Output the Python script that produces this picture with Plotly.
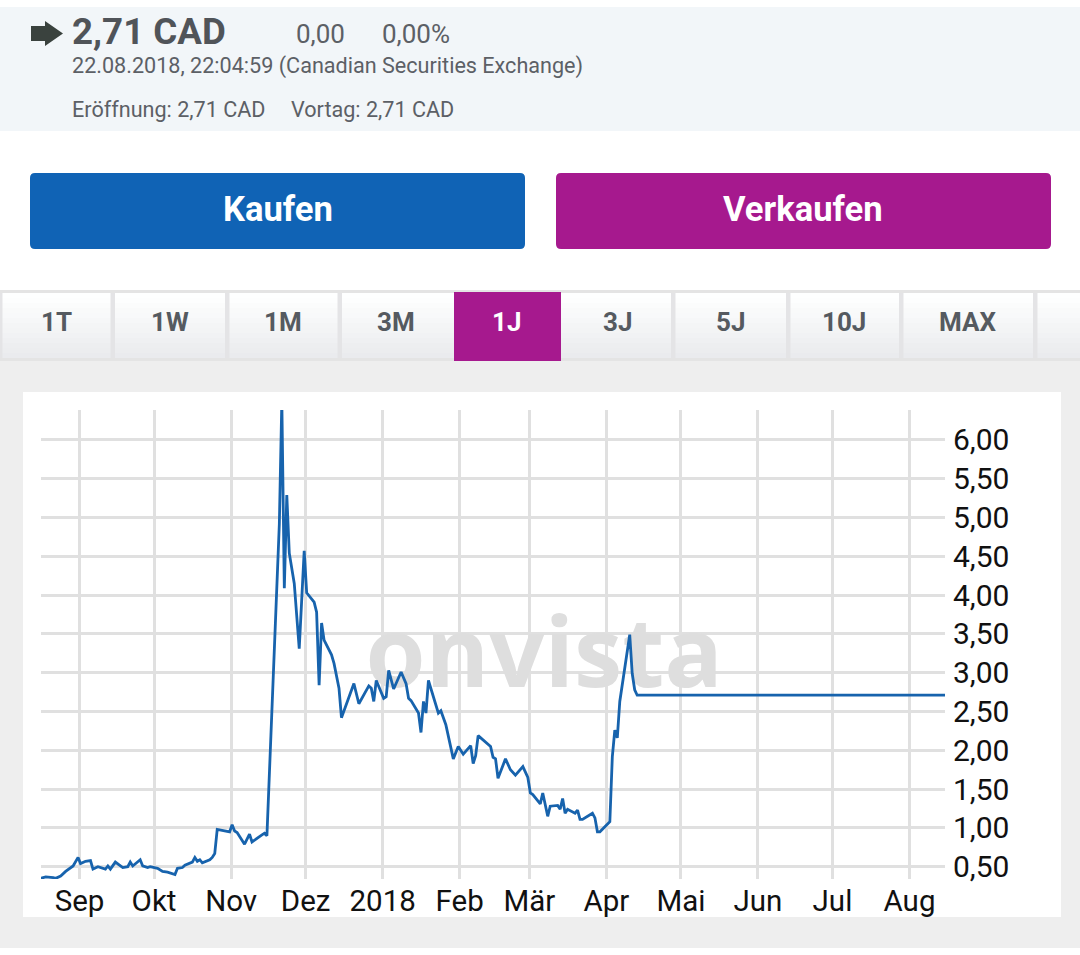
import pandas as pd
import plotly.graph_objects as go

# closing prices
dates = [
    "2017-08-16", "2017-08-18", "2017-08-21", "2017-08-22", "2017-08-24", "2017-08-26", "2017-08-29", "2017-08-31",
    "2017-09-01", "2017-09-03", "2017-09-05", "2017-09-06", "2017-09-08", "2017-09-09", "2017-09-11", "2017-09-12",
    "2017-09-13", "2017-09-15", "2017-09-18", "2017-09-20", "2017-09-21", "2017-09-22", "2017-09-25", "2017-09-26",
    "2017-09-28", "2017-09-29", "2017-10-02", "2017-10-04", "2017-10-06", "2017-10-09", "2017-10-10", "2017-10-12",
    "2017-10-13", "2017-10-16", "2017-10-17", "2017-10-18", "2017-10-19", "2017-10-20", "2017-10-23", "2017-10-24",
    "2017-10-25", "2017-10-26", "2017-10-29", "2017-10-31", "2017-11-01", "2017-11-02", "2017-11-03", "2017-11-06",
    "2017-11-08", "2017-11-09", "2017-11-13", "2017-11-14", "2017-11-15", "2017-11-17", "2017-11-18", "2017-11-19",
    "2017-11-20", "2017-11-21", "2017-11-22", "2017-11-23", "2017-11-24", "2017-11-26", "2017-11-28", "2017-11-30",
    "2017-12-01", "2017-12-04", "2017-12-05", "2017-12-06", "2017-12-07", "2017-12-08", "2017-12-11", "2017-12-12",
    "2017-12-13", "2017-12-14", "2017-12-15", "2017-12-20", "2017-12-22", "2017-12-26", "2017-12-27", "2017-12-28",
    "2017-12-29", "2018-01-01", "2018-01-02", "2018-01-03", "2018-01-05", "2018-01-08", "2018-01-10", "2018-01-11",
    "2018-01-12", "2018-01-15", "2018-01-16", "2018-01-17", "2018-01-18", "2018-01-19", "2018-01-23", "2018-01-24",
    "2018-01-26", "2018-01-29", "2018-01-31", "2018-02-02", "2018-02-05", "2018-02-06", "2018-02-07", "2018-02-08",
    "2018-02-13", "2018-02-14", "2018-02-15", "2018-02-16", "2018-02-19", "2018-02-21", "2018-02-23", "2018-02-26",
    "2018-02-28", "2018-03-01", "2018-03-02", "2018-03-05", "2018-03-06", "2018-03-08", "2018-03-09", "2018-03-12",
    "2018-03-13", "2018-03-14", "2018-03-15", "2018-03-16", "2018-03-19", "2018-03-20", "2018-03-21", "2018-03-22",
    "2018-03-26", "2018-03-27", "2018-03-28", "2018-03-29", "2018-04-02", "2018-04-03", "2018-04-04", "2018-04-05",
    "2018-04-06", "2018-04-10", "2018-04-11", "2018-04-12", "2018-04-13", "2018-05-15", "2018-06-15", "2018-07-16",
    "2018-08-16",
]
prices = [
    0.35, 0.37, 0.36, 0.35, 0.38, 0.44, 0.51, 0.62,
    0.54, 0.57, 0.58, 0.47, 0.50, 0.49, 0.47, 0.51,
    0.47, 0.56, 0.49, 0.50, 0.56, 0.51, 0.59, 0.51,
    0.49, 0.50, 0.48, 0.44, 0.43, 0.40, 0.48, 0.49,
    0.52, 0.56, 0.62, 0.57, 0.59, 0.55, 0.59, 0.62,
    0.67, 0.98, 0.96, 0.95, 1.04, 0.96, 0.94, 0.79,
    0.92, 0.82, 0.91, 0.93, 0.90, 2.52, 3.33, 4.06,
    4.92, 6.50, 4.09, 5.29, 4.54, 4.15, 3.31, 4.57,
    4.03, 3.91, 3.78, 2.84, 3.64, 3.42, 3.23, 3.12,
    2.95, 2.80, 2.42, 2.86, 2.60, 2.83, 2.80, 2.63,
    2.90, 2.67, 2.69, 3.03, 2.79, 3.01, 2.86, 2.67,
    2.64, 2.48, 2.23, 2.63, 2.48, 2.90, 2.48, 2.51,
    2.33, 1.89, 2.05, 1.95, 2.06, 1.83, 1.93, 2.19,
    2.05, 1.91, 1.89, 1.64, 1.89, 1.75, 1.68, 1.79,
    1.65, 1.45, 1.43, 1.31, 1.45, 1.15, 1.28, 1.29,
    1.24, 1.38, 1.19, 1.24, 1.19, 1.23, 1.11, 1.11,
    1.19, 1.13, 0.95, 0.95, 1.08, 1.92, 2.26, 2.16,
    2.63, 3.49, 2.99, 2.78, 2.71, 2.71, 2.71, 2.71,
    2.71,
]
month_ticks = ["2017-09-01", "2017-10-01", "2017-11-01", "2017-12-01", "2018-01-01", "2018-02-01",
               "2018-03-01", "2018-04-01", "2018-05-01", "2018-06-01", "2018-07-01", "2018-08-01"]
month_labels = ["Sep", "Okt", "Nov", "Dez", "2018", "Feb", "Mär", "Apr", "Mai", "Jun", "Jul", "Aug"]
price_ticks = [0.5, 1.0, 1.5, 2.0, 2.5, 3.0, 3.5, 4.0, 4.5, 5.0, 5.5, 6.0]

tab_labels = ["1T", "1W", "1M", "3M", "1J", "3J", "5J", "10J", "MAX"]
tab_centers = [56.5, 170, 283, 396, 506.5, 617.5, 730.5, 843.5, 967.5]
tab_separators = [-2, 110.5, 225, 337.5, 671, 786, 899, 1033]

W, H = 1080, 955
FONT = "Roboto"
TEXT_GREY = "#5c6066"


def px(x):
    return x / W


def py(y):
    return 1 - y / H


def rect(x0, y0, x1, y1, color):
    return dict(type="rect", xref="paper", yref="paper", x0=px(x0), x1=px(x1), y0=py(y0), y1=py(y1),
                fillcolor=color, line_width=0, layer="below")


def round_rect(x0, y0, x1, y1, r, color):
    p = (f"M {px(x0 + r)} {py(y0)} L {px(x1 - r)} {py(y0)} Q {px(x1)} {py(y0)} {px(x1)} {py(y0 + r)} "
         f"L {px(x1)} {py(y1 - r)} Q {px(x1)} {py(y1)} {px(x1 - r)} {py(y1)} "
         f"L {px(x0 + r)} {py(y1)} Q {px(x0)} {py(y1)} {px(x0)} {py(y1 - r)} "
         f"L {px(x0)} {py(y0 + r)} Q {px(x0)} {py(y0)} {px(x0 + r)} {py(y0)} Z")
    return dict(type="path", xref="paper", yref="paper", path=p, fillcolor=color, line_width=0, layer="below")


def label(x, y, text, size, color=TEXT_GREY, anchor="left", weight=400):
    # annotations carry 2px of padding, take it off left aligned text
    x = x - 2 if anchor == "left" else x
    return dict(xref="paper", yref="paper", x=px(x), y=py(y), text=text, showarrow=False, xanchor=anchor,
                yanchor="middle", font=dict(family=FONT, size=size, color=color, weight=weight))


shapes = [
    rect(0, 7, W, 131, "#f2f6f9"),  # header strip
    rect(0, 361, W, 948, "#eeeeee"),  # chart background
    rect(23, 392, 1061, 917, "#ffffff"),  # chart card
    round_rect(30, 173, 525, 249, 5, "#1063b5"),
    round_rect(556, 173, 1051, 249, 5, "#a6198e"),
]

# tab bar, shapes have no gradients so it is stacked from strips
for i in range(13):
    g = 255 - int(i * 1.7)
    shapes.append(rect(0, 293 + i * 5, W, 298 + i * 5, f"rgb({g - 1},{g},{min(g + i // 4, 255)})"))
shapes.append(rect(0, 290, W, 293, "#e4e4e4"))
shapes.append(rect(0, 358, W, 361, "#e4e4e4"))
for x in tab_separators:
    shapes.append(rect(x, 293, x + 4.5, 358, "#e4e4e6"))
shapes.append(rect(454, 292, 561, 361, "#a6198e"))

# arrow icon in the header
arrow = [(31, 26), (45, 26), (45, 21), (63, 33.5), (45, 46), (45, 41), (31, 41)]
shapes.append(dict(type="path", xref="paper", yref="paper", fillcolor="#3a423e", line_width=0,
                   path="M " + " L ".join(f"{px(a)} {py(b)}" for a, b in arrow) + " Z"))

annotations = [
    label(72, 31, "2,71 CAD", 36.7, "#505459", weight=700),
    label(296, 34, "0,00", 26),
    label(382, 34, "0,00%", 26),
    label(72, 66, "22.08.2018, 22:04:59 (Canadian Securities Exchange)", 21.6),
    label(72, 109.5, "Eröffnung: 2,71 CAD", 21.6),
    label(291, 109.5, "Vortag: 2,71 CAD", 21.6),
    label(278, 209, "Kaufen", 34.6, "#ffffff", "center", 700),
    label(803, 209, "Verkaufen", 34.6, "#ffffff", "center", 700),
]
for name, x in zip(tab_labels, tab_centers):
    annotations.append(label(x, 322, name, 26, "#ffffff" if name == "1J" else "#555a60", "center", 700))

fig = go.Figure()

# watermark sits above the grid but under the price line
fig.add_trace(go.Scatter(x=["2018-03-07"], y=[3.13], mode="text", text=["onvista"], hoverinfo="skip",
                         textposition="middle center",
                         textfont=dict(family="Open Sans", size=97, color="#dedede", weight=700)))
fig.add_trace(go.Scatter(x=pd.to_datetime(dates) + pd.Timedelta(hours=10), y=prices, mode="lines",
                         line=dict(color="#1763ad", width=2.8)))

fig.update_layout(
    width=W,
    height=H,
    margin=dict(l=0, r=0, t=0, b=0),
    paper_bgcolor="#ffffff",
    plot_bgcolor="rgba(0,0,0,0)",
    showlegend=False,
    separators=",.",
    shapes=shapes,
    annotations=annotations,
    font=dict(family=FONT, size=30, color="#111111"),
    xaxis=dict(domain=[px(41), px(945)], range=["2017-08-16 12:00", "2018-08-15 07:00"], type="date",
               automargin=False, tickvals=month_ticks, ticktext=month_labels, showgrid=True, gridcolor="#e0e0e0",
               gridwidth=2.5, zeroline=False, showline=False, ticks="outside", ticklen=2, ticklabelstandoff=-6,
               tickcolor="rgba(0,0,0,0)", tickfont=dict(size=29.5)),
    yaxis=dict(domain=[py(879), py(410)], range=[0.342, 6.385], side="right", tickvals=price_ticks,
               automargin=False, tickformat=".2f", showgrid=True, gridcolor="#e0e0e0", gridwidth=2.5, zeroline=False,
               showline=False, ticks="outside", ticklen=1, tickcolor="rgba(0,0,0,0)"),
)

fig.write_html("out.html", config=dict(displayModeBar=False),
               post_script="document.body.style.margin='0';document.body.style.overflow='hidden';")
